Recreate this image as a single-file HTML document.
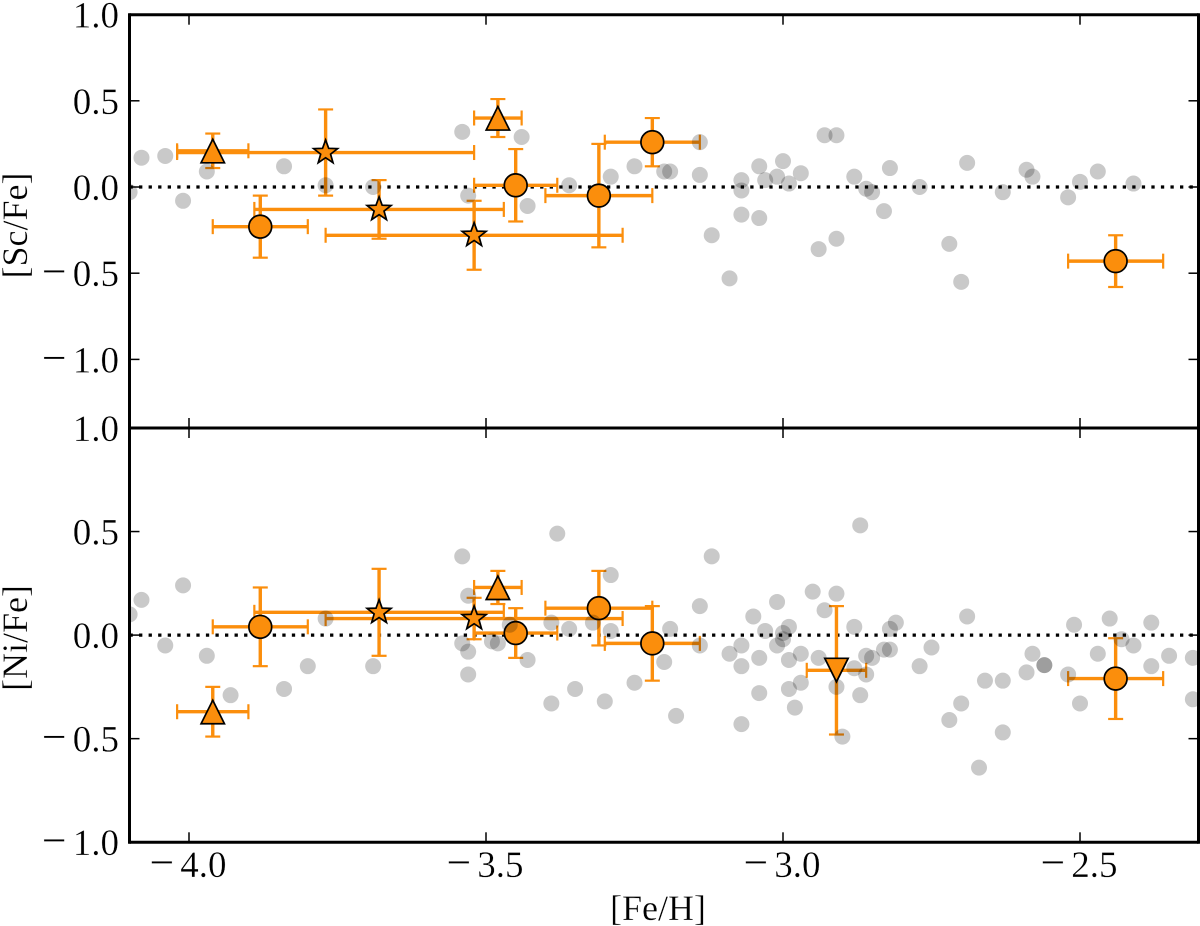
<!DOCTYPE html>
<html lang="en">
<head>
<meta charset="utf-8">
<title>[Sc/Fe] and [Ni/Fe] versus [Fe/H]</title>
<style>
html,body{margin:0;padding:0;background:#fff;}
svg{display:block;}
text{font-family:"Liberation Serif",serif;fill:#000;stroke:#fff;stroke-width:0.3px;}
</style>
</head>
<body>
<svg id="chart" xmlns="http://www.w3.org/2000/svg" width="1200" height="926" viewBox="0 0 1200 926">
  <defs>
    <clipPath id="clip-top"><rect x="129.5" y="14.7" width="1069" height="413.3"/></clipPath>
    <clipPath id="clip-bottom"><rect x="129.5" y="428" width="1069" height="414.3"/></clipPath>
  </defs>
  <text transform="translate(27,225.5) rotate(-90)" text-anchor="middle" font-size="36">[Sc/Fe]</text>
  <text transform="translate(27,638) rotate(-90)" text-anchor="middle" font-size="36">[Ni/Fe]</text>
  <text x="658" y="920" text-anchor="middle" font-size="36">[Fe/H]</text>
</svg>
<script>
// ---- axis tick labels ----
const xTickValues = [-4.0, -3.5, -3.0, -2.5];
const xTickLabels = ["\u22124.0", "\u22123.5", "\u22123.0", "\u22122.5"];
const yTickValues = [1.0, 0.5, 0.0, -0.5, -1.0];
const yTickLabels = ["1.0", "0.5", "0.0", "\u22120.5", "\u22121.0"];

// ---- comparison sample, [Sc/Fe] panel ----
const grayScX = [-4.10,-4.08,-4.04,-4.01,-3.97,-3.84,-3.77,-3.69,-3.54,-3.53,-3.44,-3.43,-3.36,-3.29,-3.25,-3.20,-3.19,-3.14,-3.14,-3.12,-3.09,-3.07,-3.07,-3.07,-3.04,-3.04,-3.03,-3.01,-3.00,-2.99,-2.97,-2.94,-2.93,-2.91,-2.91,-2.88,-2.86,-2.85,-2.83,-2.82,-2.77,-2.72,-2.70,-2.69,-2.63,-2.59,-2.58,-2.52,-2.50,-2.47,-2.41];
const grayScY = [-0.03,0.17,0.18,-0.08,0.09,0.12,0.01,0.00,0.32,-0.05,0.29,-0.11,0.01,0.06,0.12,0.09,0.09,0.26,0.07,-0.28,-0.53,0.04,-0.02,-0.16,0.12,-0.18,0.04,0.06,0.15,0.02,0.08,-0.36,0.30,0.30,-0.30,0.06,-0.01,-0.03,-0.14,0.11,0.00,-0.33,-0.55,0.14,-0.03,0.10,0.06,-0.06,0.03,0.09,0.02];

// ---- comparison sample, [Ni/Fe] panel ----
const grayNiX = [-4.10,-4.08,-4.04,-4.01,-3.97,-3.93,-3.84,-3.80,-3.77,-3.69,-3.54,-3.53,-3.54,-3.53,-3.53,-3.49,-3.48,-3.46,-3.43,-3.39,-3.39,-3.38,-3.36,-3.35,-3.32,-3.29,-3.29,-3.30,-3.25,-3.20,-3.19,-3.18,-3.14,-3.14,-3.12,-3.09,-3.07,-3.07,-3.07,-3.05,-3.04,-3.04,-3.03,-3.01,-3.01,-3.00,-3.00,-2.99,-2.99,-2.99,-2.97,-2.97,-2.98,-2.95,-2.94,-2.93,-2.91,-2.91,-2.90,-2.88,-2.88,-2.87,-2.87,-2.86,-2.86,-2.85,-2.83,-2.82,-2.82,-2.81,-2.77,-2.75,-2.72,-2.70,-2.69,-2.67,-2.66,-2.63,-2.63,-2.59,-2.58,-2.56,-2.56,-2.52,-2.51,-2.50,-2.47,-2.45,-2.43,-2.41,-2.38,-2.38,-2.35,-2.31,-2.31];
const grayNiY = [0.10,0.17,-0.05,0.24,-0.10,-0.29,-0.26,-0.15,0.08,-0.15,0.38,0.19,-0.04,-0.08,-0.19,-0.03,-0.04,0.05,-0.12,0.06,-0.33,0.49,0.03,-0.26,0.06,0.29,0.02,-0.32,-0.23,-0.13,0.03,-0.39,0.14,-0.05,0.38,-0.09,-0.05,-0.15,-0.43,0.09,-0.11,-0.28,0.02,0.16,-0.05,0.01,-0.02,0.04,-0.12,-0.26,-0.09,-0.23,-0.35,0.21,-0.11,0.12,0.20,-0.25,-0.49,0.04,-0.16,0.53,-0.29,-0.10,-0.19,-0.11,-0.07,-0.07,0.03,0.06,-0.15,-0.06,-0.41,-0.33,0.09,-0.64,-0.22,-0.22,-0.47,-0.18,-0.09,-0.145,-0.145,-0.19,0.05,-0.33,-0.09,0.08,-0.02,-0.05,0.06,-0.15,-0.10,-0.11,-0.31];

// ---- program stars, [Sc/Fe] panel ----
const scMarker = ["up","circle","star","star","star","up","circle","circle","circle","circle"];
const scFeH    = [-3.96,-3.88,-3.77,-3.68,-3.52,-3.48,-3.45,-3.31,-3.22,-2.44];
const scFeHErr = [0.06,0.08,0.25,0.21,0.25,0.04,0.07,0.09,0.08,0.08];
const scVal    = [0.21,-0.23,0.20,-0.13,-0.28,0.40,0.01,-0.05,0.26,-0.43];
const scErr    = [0.10,0.18,0.25,0.17,0.20,0.11,0.21,0.30,0.14,0.15];

// ---- program stars, [Ni/Fe] panel ----
const niMarker = ["up","circle","star","star","up","circle","circle","circle","down","circle"];
const niFeH    = [-3.96,-3.88,-3.68,-3.52,-3.48,-3.45,-3.31,-3.22,-2.91,-2.44];
const niFeHErr = [0.06,0.08,0.21,0.25,0.04,0.07,0.09,0.08,0.05,0.08];
const niVal    = [-0.37,0.04,0.11,0.08,0.23,0.01,0.13,-0.04,-0.17,-0.21];
const niErr    = [0.12,0.19,0.21,0.10,0.08,0.12,0.18,0.18,0.31,0.195];

// ---- axis functions ----
const PLOT_LEFT = 129.5, PLOT_RIGHT = 1198.5;
const TOP_Y0 = 14.7, MID_Y = 428, BOT_Y = 842.3;
function xScale(v){ return 189 + (v + 4) * 594; }
function yScaleSc(v){ return 187 - v * 172.4; }
function yScaleNi(v){ return 635.1 - v * 207.1; }

const NS = "http://www.w3.org/2000/svg";
const svg = document.getElementById("chart");
const ORANGE = "#fb8e0c";

function line(parent, x1, y1, x2, y2, stroke, width, name){
  const el = document.createElementNS(NS, "line");
  el.setAttribute("x1", x1);
  el.setAttribute("y1", y1);
  el.setAttribute("x2", x2);
  el.setAttribute("y2", y2);
  el.setAttribute("stroke", stroke);
  el.setAttribute("stroke-width", width);
  
  
  parent.appendChild(el);
  return el;
}

function group(name, clip){
  const g = document.createElementNS(NS, "g");
  if (clip) g.setAttribute("clip-path", "url(#" + clip + ")");
  
  
  svg.appendChild(g);
  return g;
}

function tickLabel(parent, x, y, anchor, label, name){
  const t = document.createElementNS(NS, "text");
  t.setAttribute("x", x);
  t.setAttribute("y", y);
  t.setAttribute("text-anchor", anchor);
  t.setAttribute("font-size", "37");
  
  
  if (label.charAt(0) === "\u2212") {
    const m = document.createElementNS(NS, "tspan");
    m.setAttribute("font-size", "44");
    m.setAttribute("dy", "0");
    m.setAttribute("font-weight", "normal");
    m.textContent = "\u2212";
    t.appendChild(m);
    const d = document.createElementNS(NS, "tspan");
    d.setAttribute("dx", "6");
    d.textContent = label.slice(1);
    t.appendChild(d);
  } else {
    t.textContent = label;
  }
  parent.appendChild(t);
}

function marker(parent, kind, cx, cy, name){
  let el;
  if (kind === "circle") {
    el = document.createElementNS(NS, "circle");
    el.setAttribute("cx", cx);
    el.setAttribute("cy", cy);
    el.setAttribute("r", 11.4);
  } else {
    el = document.createElementNS(NS, "polygon");
    let pts = [];
    if (kind === "up") {
      pts = [[cx, cy - 11.5], [cx + 11.7, cy + 12], [cx - 11.7, cy + 12]];
    } else if (kind === "down") {
      pts = [[cx, cy + 11.5], [cx + 11.7, cy - 12], [cx - 11.7, cy - 12]];
    } else {
      for (let i = 0; i < 10; i++) {
        const r = i % 2 === 0 ? 12.6 : 5.2;
        const a = -Math.PI / 2 + i * Math.PI / 5;
        pts.push([cx + r * Math.cos(a), cy + r * Math.sin(a)]);
      }
    }
    el.setAttribute("points", pts.map(p => p[0].toFixed(2) + "," + p[1].toFixed(2)).join(" "));
  }
  el.setAttribute("fill", ORANGE);
  el.setAttribute("stroke", "#000");
  el.setAttribute("stroke-width", "1.7");
  el.setAttribute("stroke-linejoin", "miter");
  
  
  parent.appendChild(el);
}

function drawPanel(key, clip, yScale, grayX, grayY, kinds, fe, feErr, val, err, y0, y1){
  const base = group(key + "-reference-line", clip);
  const zero = line(base, PLOT_LEFT, yScale(0), PLOT_RIGHT, yScale(0), "#000", 3.3, key + "-zero-line");
  zero.setAttribute("stroke-dasharray", "3.3 6.25");

  const pts = group(key + "-program-stars", clip);
  fe.forEach(function(v, i){
    const cx = xScale(v), cy = yScale(val[i]);
    const xa = xScale(v - feErr[i]), xb = xScale(v + feErr[i]);
    const ya = yScale(val[i] - err[i]), yb = yScale(val[i] + err[i]);
    line(pts, xa, cy, xb, cy, ORANGE, 3.4, key + "-x-error-bar");
    line(pts, cx, ya, cx, yb, ORANGE, 3.4, key + "-y-error-bar");
    line(pts, xa, cy - 7.5, xa, cy + 7.5, ORANGE, 2.2, key + "-x-error-cap");
    line(pts, xb, cy - 7.5, xb, cy + 7.5, ORANGE, 2.2, key + "-x-error-cap");
    line(pts, cx - 7.5, ya, cx + 7.5, ya, ORANGE, 2.2, key + "-y-error-cap");
    line(pts, cx - 7.5, yb, cx + 7.5, yb, ORANGE, 2.2, key + "-y-error-cap");
  });
  fe.forEach(function(v, i){
    marker(pts, kinds[i], xScale(v), yScale(val[i]), key + "-marker-" + kinds[i]);
  });

  const gray = group(key + "-comparison-sample", clip);
  grayX.forEach(function(v, i){
    const c = document.createElementNS(NS, "circle");
    c.setAttribute("cx", xScale(v));
    c.setAttribute("cy", yScale(grayY[i]));
    c.setAttribute("r", 8);
    c.setAttribute("fill", "#000");
    c.setAttribute("fill-opacity", "0.21");
    
    
    gray.appendChild(c);
  });

  const axes = group(key + "-axes", null);
  xTickValues.forEach(function(v){
    line(axes, xScale(v), y0, xScale(v), y0 + 10, "#000", 1.5, key + "-x-tick");
    line(axes, xScale(v), y1, xScale(v), y1 - 10, "#000", 1.5, key + "-x-tick");
  });
  yTickValues.forEach(function(v, i){
    const y = yScale(v);
    if (y > y0 + 1 && y < y1 - 1) {
      line(axes, PLOT_LEFT, y, PLOT_LEFT + 10, y, "#000", 1.5, key + "-y-tick");
      line(axes, PLOT_RIGHT, y, PLOT_RIGHT - 10, y, "#000", 1.5, key + "-y-tick");
    }
    tickLabel(axes, 119, y + 13, "end", yTickLabels[i], key + "-y-tick-label");
  });
  line(axes, PLOT_LEFT, y0, PLOT_RIGHT, y0, "#000", 3, key + "-top-spine");
  line(axes, PLOT_LEFT, y1, PLOT_RIGHT, y1, "#000", 3, key + "-bottom-spine");
  line(axes, PLOT_LEFT, y0 - 1.5, PLOT_LEFT, y1 + 1.5, "#000", 3, key + "-left-spine");
  line(axes, PLOT_RIGHT, y0 - 1.5, PLOT_RIGHT, y1 + 1.5, "#000", 3, key + "-right-spine");
}

drawPanel("scandium-panel", "clip-top", yScaleSc, grayScX, grayScY, scMarker, scFeH, scFeHErr, scVal, scErr, TOP_Y0, MID_Y);
drawPanel("nickel-panel", "clip-bottom", yScaleNi, grayNiX, grayNiY, niMarker, niFeH, niFeHErr, niVal, niErr, MID_Y, BOT_Y);

const xLabels = group("x-tick-labels", null);
xTickValues.forEach(function(v, i){
  tickLabel(xLabels, xScale(v) - 1, 877, "middle", xTickLabels[i], "x-tick-label");
});
</script>
</body>
</html>
